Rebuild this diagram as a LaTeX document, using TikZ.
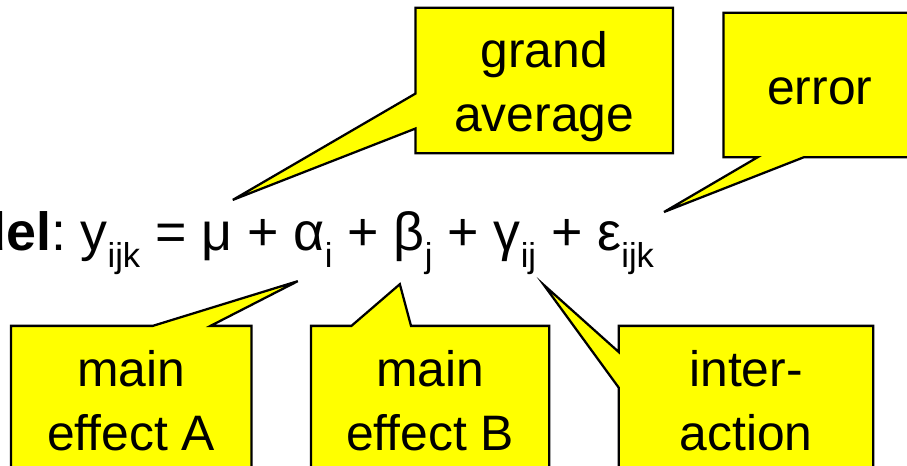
\documentclass[tikz,border=0pt]{standalone}
\usepackage{fontspec}
\setmainfont{Liberation Sans}
\usetikzlibrary{calc,backgrounds}

\definecolor{calloutyellow}{RGB}{255,255,0}
\newcommand{\idx}[1]{\raisebox{-12.75pt}{\fontsize{26}{26}\selectfont #1}}

\begin{document}
\begin{tikzpicture}[
        every node/.style={font=\fontsize{37.5}{48}\selectfont},
        box/.style={
            inner sep=0pt
        },
        txt/.style={
            inner sep=0pt,
            align=center
        },
        callout/.style={
            draw,
            fill=calloutyellow,
            line width=1.7pt,
            line join=miter
        }
    ]

    \useasboundingbox (0,0) rectangle (24,12.33);

    % Label boxes
    \node[box, minimum width=6.80cm, minimum height=3.84cm] (ga) at (14.40,10.20) {};
    \node[box, minimum width=5.08cm, minimum height=3.81cm] (er) at (21.69,10.08) {};
    \node[box, minimum width=6.35cm, minimum height=4.18cm] (ma) at (3.47,1.61) {};
    \node[box, minimum width=6.29cm, minimum height=4.18cm] (mb) at (11.38,1.61) {};
    \node[box, minimum width=6.72cm, minimum height=4.18cm] (ia) at (19.74,1.61) {};

    % Label texts
    \node[txt] (gatext) at ([yshift=-0.16cm]ga.center) {grand\\average};
    \node[txt] (ertext) at ([yshift=-0.16cm]er.center) {error};
    \node[txt] (matext) at ([yshift=0.12cm]ma.center) {main\\effect A};
    \node[txt] (mbtext) at ([yshift=0.12cm]mb.center) {main\\effect B};
    \node[txt] (iatext) at ([yshift=0.12cm]ia.center) {inter-\\action};

    % Model equation
    \node[anchor=base east, font=\fontsize{40.5}{48}\selectfont] (eq) at (17.43,5.71)
    {\textbf{model}:\hspace{11pt}y\idx{ijk} = μ + α\idx{i} + β\idx{j} + γ\idx{ij} + ε\idx{ijk}};

    % Pointer tips
    \coordinate (gatip) at (6.16,7.04);
    \coordinate (ertip) at (17.57,6.72);
    \coordinate (matip) at (7.88,4.89);
    \coordinate (mbtip) at (10.58,4.81);
    \coordinate (iatip) at (14.39,4.79);

    % Callout outlines
    \begin{pgfonlayer}{background}
    \draw[callout] (ga.north west) -- (ga.north east) -- (ga.south east) -- (ga.south west)
        -- ($(ga.north west)!0.83!(ga.south west)$) -- (gatip)
        -- ($(ga.north west)!0.59!(ga.south west)$) -- cycle;
    \draw[callout] (er.north west) -- (er.north east) -- (er.south east)
        -- ($(er.south west)!0.417!(er.south east)$) -- (ertip)
        -- ($(er.south west)!0.177!(er.south east)$) -- (er.south west) -- cycle;
    \draw[callout] (ma.south west) -- (ma.north west)
        -- ($(ma.north west)!0.59!(ma.north east)$) -- (matip)
        -- ($(ma.north west)!0.83!(ma.north east)$) -- (ma.north east) -- (ma.south east) -- cycle;
    \draw[callout] (mb.south west) -- (mb.north west)
        -- ($(mb.north west)!0.17!(mb.north east)$) -- (mbtip)
        -- ($(mb.north west)!0.42!(mb.north east)$) -- (mb.north east) -- (mb.south east) -- cycle;
    \draw[callout] (ia.north west) -- (ia.north east) -- (ia.south east) -- (ia.south west)
        -- ($(ia.north west)!0.39!(ia.south west)$) -- (iatip)
        -- ($(ia.north west)!0.165!(ia.south west)$) -- cycle;
    \end{pgfonlayer}

\end{tikzpicture}
\end{document}
